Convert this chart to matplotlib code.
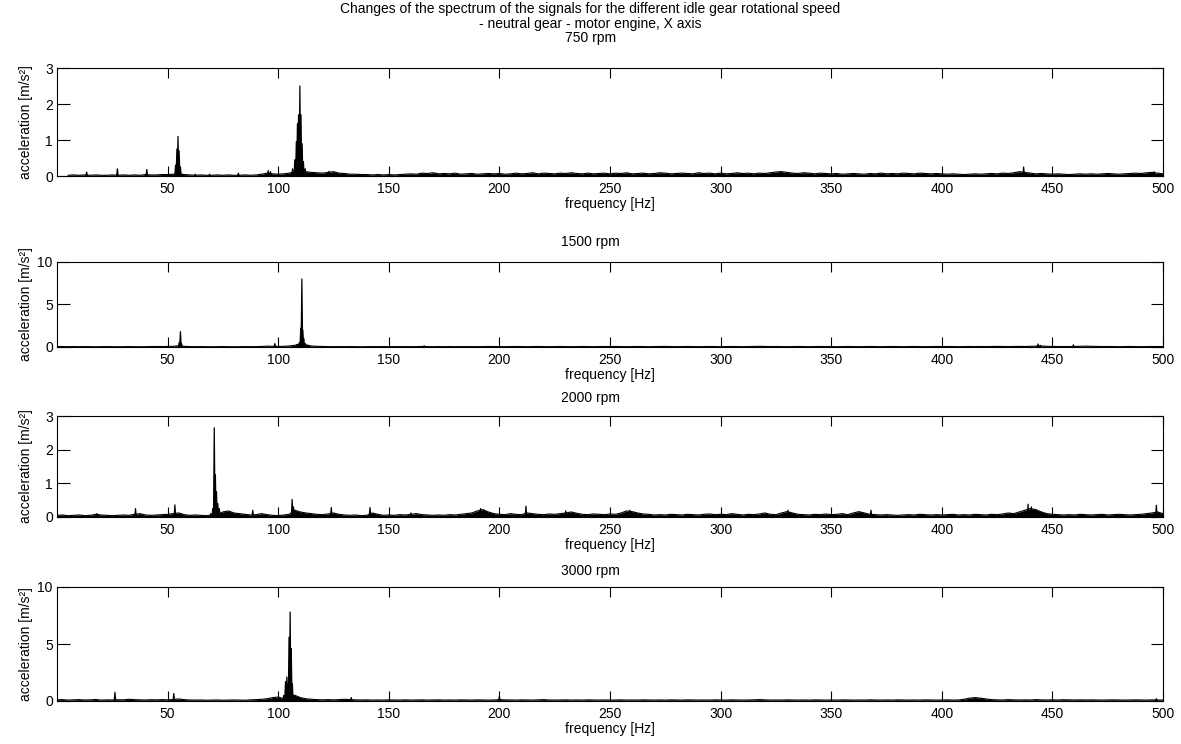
import numpy as np
import matplotlib
matplotlib.use("Agg")
import matplotlib.pyplot as plt
from matplotlib import font_manager

# polices : Liberation Sans Narrow si dispo, proche du rendu MATLAB
installed = {f.name for f in font_manager.fontManager.ttflist}
family = 'Liberation Sans Narrow' if 'Liberation Sans Narrow' in installed else 'Liberation Sans'
plt.rcParams['font.family'] = [family, 'DejaVu Sans']
plt.rcParams['font.size'] = 10

# ---- donnees ----
speeds = ['750 rpm', '1500 rpm', '2000 rpm', '3000 rpm']
y_max = [3, 10, 3, 10]
y_ticks = [[0, 1, 2, 3], [0, 5, 10], [0, 1, 2, 3], [0, 5, 10]]
x_ticks = [50, 100, 150, 200, 250, 300, 350, 400, 450, 500]
grid_step = 2.5   # pas du fond de bruit (Hz), 0 .. 500

# fond de bruit, un point tous les 2.5 Hz
noise_750 = [np.nan, np.nan, 0.02, 0.03, 0.02, 0.03, 0.02, 0.03, 0.02, 0.02, 0.03, 0.02, 0.03, 0.02, 0.03, 0.02, 0.04, 0.03, 0.03, 0.04,
             0.04, 0.05, 0.06, 0.04, 0.03, 0.02, 0.03, 0.02, 0.02, 0.03, 0.02, 0.03, 0.02, 0.02, 0.03, 0.02, 0.03, 0.05, 0.08, 0.06,
             0.05, 0.06, 0.08, 0.12, 0.15, 0.12, 0.10, 0.09, 0.08, 0.10, 0.12, 0.08, 0.07, 0.05, 0.05, 0.04, 0.04, 0.03, 0.04, 0.03,
             0.04, 0.03, 0.04, 0.05, 0.06, 0.05, 0.08, 0.07, 0.09, 0.06, 0.07, 0.06, 0.08, 0.05, 0.06, 0.07, 0.05, 0.06, 0.07, 0.06,
             0.07, 0.05, 0.06, 0.08, 0.06, 0.07, 0.09, 0.06, 0.08, 0.07, 0.06, 0.08, 0.07, 0.09, 0.07, 0.06, 0.08, 0.06, 0.07, 0.08,
             0.06, 0.08, 0.07, 0.09, 0.06, 0.07, 0.08, 0.06, 0.07, 0.09, 0.08, 0.06, 0.07, 0.08, 0.07, 0.06, 0.09, 0.07, 0.08, 0.06,
             0.08, 0.06, 0.07, 0.09, 0.07, 0.08, 0.06, 0.08, 0.07, 0.09, 0.11, 0.12, 0.10, 0.08, 0.07, 0.09, 0.08, 0.06, 0.08, 0.07,
             0.06, 0.07, 0.05, 0.06, 0.07, 0.06, 0.05, 0.07, 0.06, 0.08, 0.06, 0.07, 0.06, 0.08, 0.07, 0.06, 0.08, 0.07, 0.06, 0.07,
             0.06, 0.05, 0.06, 0.05, 0.04, 0.05, 0.06, 0.05, 0.06, 0.07, 0.06, 0.08, 0.07, 0.09, 0.12, 0.10, 0.08, 0.06, 0.07, 0.06,
             0.05, 0.06, 0.05, 0.04, 0.05, 0.06, 0.05, 0.06, 0.05, 0.06, 0.07, 0.06, 0.05, 0.06, 0.07, 0.08, 0.07, 0.09, 0.10, 0.08, 0.06]

noise_1500 = [0.06, 0.05, 0.04, 0.05, 0.04, 0.05, 0.04, 0.03, 0.04, 0.05, 0.04, 0.03, 0.04, 0.05, 0.04, 0.03, 0.04, 0.05, 0.06, 0.05,
              0.06, 0.08, 0.15, 0.08, 0.05, 0.04, 0.05, 0.04, 0.03, 0.04, 0.05, 0.04, 0.03, 0.04, 0.05, 0.04, 0.05, 0.06, 0.10, 0.08,
              0.06, 0.08, 0.12, 0.20, 0.35, 0.25, 0.12, 0.08, 0.06, 0.05, 0.04, 0.05, 0.04, 0.05, 0.04, 0.03, 0.04, 0.05, 0.04, 0.05,
              0.04, 0.05, 0.04, 0.05, 0.04, 0.05, 0.06, 0.05, 0.04, 0.05, 0.04, 0.05, 0.04, 0.05, 0.04, 0.05, 0.04, 0.05, 0.06, 0.05,
              0.05, 0.04, 0.05, 0.06, 0.05, 0.04, 0.05, 0.06, 0.05, 0.04, 0.05, 0.06, 0.05, 0.04, 0.05, 0.06, 0.05, 0.04, 0.05, 0.06,
              0.05, 0.06, 0.05, 0.04, 0.05, 0.06, 0.05, 0.04, 0.05, 0.06, 0.07, 0.05, 0.04, 0.05, 0.06, 0.05, 0.04, 0.05, 0.06, 0.05,
              0.04, 0.05, 0.06, 0.05, 0.04, 0.05, 0.06, 0.08, 0.06, 0.05, 0.06, 0.05, 0.04, 0.05, 0.06, 0.05, 0.04, 0.05, 0.06, 0.05,
              0.05, 0.04, 0.05, 0.06, 0.05, 0.04, 0.05, 0.06, 0.05, 0.04, 0.05, 0.06, 0.05, 0.04, 0.05, 0.06, 0.05, 0.04, 0.05, 0.06,
              0.05, 0.06, 0.05, 0.04, 0.05, 0.06, 0.05, 0.06, 0.05, 0.06, 0.07, 0.06, 0.05, 0.06, 0.07, 0.06, 0.08, 0.10, 0.12, 0.08,
              0.06, 0.05, 0.06, 0.05, 0.06, 0.08, 0.10, 0.08, 0.06, 0.05, 0.06, 0.05, 0.04, 0.05, 0.06, 0.05, 0.04, 0.05, 0.06, 0.05, 0.06]

noise_2000 = [0.05, 0.06, 0.04, 0.05, 0.06, 0.04, 0.05, 0.08, 0.06, 0.05, 0.04, 0.05, 0.06, 0.05, 0.08, 0.10, 0.06, 0.05, 0.06, 0.07,
              0.08, 0.10, 0.12, 0.07, 0.05, 0.06, 0.05, 0.04, 0.06, 0.08, 0.15, 0.18, 0.12, 0.10, 0.08, 0.06, 0.07, 0.10, 0.07, 0.05,
              0.04, 0.06, 0.08, 0.20, 0.15, 0.12, 0.10, 0.08, 0.07, 0.09, 0.12, 0.08, 0.06, 0.05, 0.06, 0.04, 0.05, 0.12, 0.08, 0.05,
              0.06, 0.05, 0.07, 0.06, 0.08, 0.10, 0.07, 0.06, 0.05, 0.06, 0.05, 0.07, 0.06, 0.08, 0.10, 0.12, 0.18, 0.22, 0.15, 0.10,
              0.08, 0.07, 0.10, 0.08, 0.07, 0.12, 0.10, 0.08, 0.07, 0.09, 0.08, 0.10, 0.12, 0.15, 0.11, 0.08, 0.07, 0.09, 0.08, 0.07,
              0.09, 0.08, 0.12, 0.18, 0.16, 0.12, 0.09, 0.08, 0.06, 0.07, 0.06, 0.08, 0.07, 0.06, 0.08, 0.07, 0.06, 0.08, 0.09, 0.07,
              0.08, 0.07, 0.10, 0.08, 0.06, 0.08, 0.07, 0.09, 0.12, 0.08, 0.07, 0.12, 0.16, 0.12, 0.08, 0.07, 0.06, 0.08, 0.07, 0.09,
              0.07, 0.08, 0.10, 0.07, 0.12, 0.16, 0.12, 0.08, 0.07, 0.06, 0.07, 0.06, 0.05, 0.06, 0.07, 0.06, 0.08, 0.07, 0.06, 0.07,
              0.06, 0.07, 0.08, 0.06, 0.07, 0.06, 0.08, 0.07, 0.06, 0.08, 0.07, 0.09, 0.12, 0.10, 0.15, 0.20, 0.25, 0.22, 0.15, 0.10,
              0.08, 0.07, 0.06, 0.07, 0.06, 0.08, 0.07, 0.06, 0.07, 0.08, 0.06, 0.07, 0.08, 0.07, 0.06, 0.07, 0.08, 0.10, 0.12, 0.15, 0.10]

noise_3000 = [0.10, 0.12, 0.08, 0.10, 0.12, 0.09, 0.10, 0.13, 0.08, 0.10, 0.09, 0.11, 0.10, 0.15, 0.12, 0.10, 0.09, 0.11, 0.10, 0.12,
              0.10, 0.13, 0.18, 0.12, 0.09, 0.08, 0.09, 0.07, 0.08, 0.09, 0.07, 0.08, 0.09, 0.08, 0.07, 0.10, 0.12, 0.15, 0.20, 0.30,
              0.35, 0.20, 0.40, 0.50, 0.30, 0.20, 0.15, 0.12, 0.10, 0.12, 0.10, 0.12, 0.15, 0.12, 0.10, 0.09, 0.10, 0.08, 0.09, 0.08,
              0.10, 0.09, 0.08, 0.10, 0.08, 0.09, 0.10, 0.08, 0.09, 0.10, 0.08, 0.09, 0.08, 0.10, 0.09, 0.08, 0.10, 0.09, 0.08, 0.09,
              0.12, 0.10, 0.09, 0.08, 0.10, 0.09, 0.08, 0.10, 0.12, 0.09, 0.08, 0.09, 0.10, 0.08, 0.09, 0.08, 0.10, 0.09, 0.08, 0.09,
              0.08, 0.09, 0.10, 0.08, 0.09, 0.08, 0.10, 0.09, 0.08, 0.09, 0.08, 0.10, 0.09, 0.08, 0.10, 0.09, 0.08, 0.09, 0.08, 0.10,
              0.09, 0.08, 0.10, 0.09, 0.08, 0.09, 0.10, 0.12, 0.10, 0.08, 0.09, 0.08, 0.10, 0.09, 0.08, 0.09, 0.08, 0.10, 0.09, 0.08,
              0.09, 0.08, 0.10, 0.09, 0.08, 0.09, 0.08, 0.10, 0.09, 0.08, 0.09, 0.08, 0.10, 0.09, 0.08, 0.09, 0.08, 0.10, 0.09, 0.08,
              0.09, 0.10, 0.08, 0.09, 0.15, 0.25, 0.30, 0.25, 0.18, 0.12, 0.10, 0.09, 0.12, 0.10, 0.09, 0.10, 0.09, 0.12, 0.10, 0.09,
              0.10, 0.09, 0.11, 0.10, 0.09, 0.10, 0.09, 0.10, 0.09, 0.08, 0.09, 0.10, 0.09, 0.08, 0.09, 0.10, 0.09, 0.08, 0.10, 0.09, 0.08]

# raies (frequence Hz, amplitude m/s2)
peak_f_750 = [13.4, 27.3, 40.6, 53.6, 54.2, 54.7, 55.2, 55.8, 62.5, 69.0, 82.0, 95.5, 96.5,
              106.5, 107.5, 108.2, 108.7, 109.2, 109.8, 110.3, 110.8, 111.4, 112.2, 123.0, 327.0, 437.0, 496.0]
peak_a_750 = [0.11, 0.20, 0.18, 0.30, 0.75, 1.10, 0.70, 0.25, 0.05, 0.05, 0.08, 0.15, 0.12,
              0.20, 0.45, 0.95, 1.45, 1.70, 2.50, 1.70, 0.90, 0.40, 0.20, 0.13, 0.12, 0.25, 0.12]

peak_f_1500 = [55.2, 55.8, 56.3, 98.5, 108.5, 109.5, 110.2, 110.7, 111.1, 111.6, 112.3, 113.5, 166.0, 443.5, 444.5, 459.5]
peak_a_1500 = [0.50, 1.80, 0.40, 0.40, 0.30, 0.50, 2.20, 8.00, 2.00, 1.00, 0.40, 0.20, 0.15, 0.35, 0.20, 0.25]

peak_f_2000 = [18.0, 35.5, 53.3, 69.5, 70.4, 71.1, 71.6, 72.1, 72.7, 73.4, 74.5, 88.5, 106.3, 106.9, 107.6,
               124.0, 141.5, 160.0, 191.5, 193.0, 212.0, 230.0, 259.0, 330.5, 368.0, 439.0, 440.5, 497.0]
peak_a_2000 = [0.10, 0.25, 0.36, 0.10, 0.25, 2.65, 1.25, 0.75, 0.40, 0.25, 0.12, 0.20, 0.52, 0.30, 0.20,
               0.28, 0.28, 0.12, 0.25, 0.20, 0.32, 0.18, 0.20, 0.20, 0.20, 0.38, 0.30, 0.35]

peak_f_3000 = [26.2, 52.8, 102.5, 103.3, 103.9, 104.4, 104.9, 105.4, 105.9, 106.4, 107.0, 108.0, 133.0, 200.0, 497.0]
peak_a_3000 = [0.76, 0.65, 0.50, 1.70, 2.10, 1.50, 5.60, 7.80, 4.60, 1.50, 0.50, 0.20, 0.30, 0.40, 0.20]

noise_all = [noise_750, noise_1500, noise_2000, noise_3000]
peaks_f = [peak_f_750, peak_f_1500, peak_f_2000, peak_f_3000]
peaks_a = [peak_a_750, peak_a_1500, peak_a_2000, peak_a_3000]

# position des axes en pixels (haut, bas) sur une figure 1181x744
W, H = 1181, 744
x_left, x_right = 57, 1163
rows = [(68, 176), (262, 347), (416, 517), (587, 701)]
title_y = [38, 242, 398, 571]

fig = plt.figure(figsize=(W / 100, H / 100), dpi=100)
fig.patch.set_facecolor('white')

fig.text(0.5, 1 - 9 / H, 'Changes of the spectrum of the signals for the different idle gear rotational speed',
         ha='center', va='center', fontsize=10)
fig.text(0.5, 1 - 24 / H, '- neutral gear - motor engine, X axis', ha='center', va='center', fontsize=10)

for i in range(4):
    top, bot = rows[i]
    ax = fig.add_axes([x_left / W, 1 - bot / H, (x_right - x_left) / W, (bot - top) / H])

    noise = np.array(noise_all[i], dtype=float)
    f_noise = np.arange(len(noise)) * grid_step
    # bruit dense -> bande noire sous la courbe
    ax.fill_between(f_noise, 0, noise, color='black', lw=0)
    ax.plot(f_noise, noise, color='black', lw=0.8)

    # chaque raie : un pic etroit partant de zero
    xs, ys = [], []
    for f, a in zip(peaks_f[i], peaks_a[i]):
        xs += [f - 0.35, f, f + 0.35, np.nan]
        ys += [0, a, 0, np.nan]
    ax.plot(xs, ys, color='black', lw=0.9)

    ax.set_xlim(0, 500)
    ax.set_ylim(0, y_max[i])
    ax.set_xticks(x_ticks)
    ax.set_yticks(y_ticks[i])
    ax.tick_params(direction='in', top=True, right=True, width=0.8, colors='black', labelsize=10)
    ax.tick_params(axis='x', length=7.5, pad=4)
    ax.tick_params(axis='y', length=9, pad=3)
    for sp in ax.spines.values():
        sp.set_linewidth(0.8)

    ax.set_xlabel('frequency [Hz]', fontsize=10, labelpad=1)
    ax.set_ylabel('acceleration [m/s²]', fontsize=10)
    ax.yaxis.set_label_coords((33 - x_left) / (x_right - x_left), 0.5)

    fig.text(0.5, 1 - title_y[i] / H, speeds[i], ha='center', va='center', fontsize=10)

fig.savefig('out.png', dpi=100, facecolor='white')
